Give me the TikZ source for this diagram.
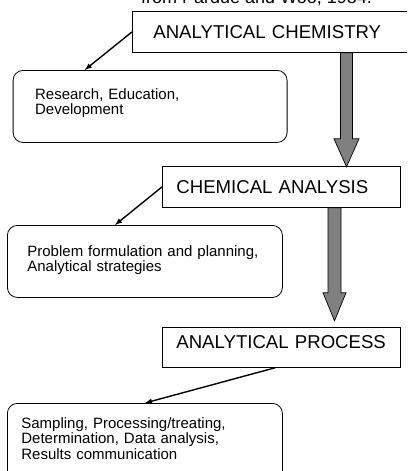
\documentclass[tikz,border=0pt]{standalone}
\usepackage{fontspec}
\setmainfont{Liberation Sans}
\usepackage{tikz}
\usetikzlibrary{positioning, arrows, calc}

\begin{document}
\begin{tikzpicture}[x=1pt, y=-1pt,
  stage/.style={draw, rectangle, anchor=north west, align=left, line width=0.8pt,
    minimum height=41pt, font=\fontsize{18.6}{22}\selectfont},
  note/.style={draw, rounded corners=10pt, anchor=north west, align=left, line width=0.8pt,
    font=\fontsize{15}{15.5}\selectfont},
  link/.style={-latex, line width=1.4pt},
  bigarrow/.style={draw=black, fill=gray, line width=0.7pt}]
  \useasboundingbox (0,0) rectangle (407,471);
  \clip (0,0) rectangle (407,471);

  \node (src) [anchor=base west, inner sep=0pt, font=\fontsize{18}{20}\selectfont] at (141,4) {from Pardue and Woo, 1984.};

  % the three levels
  \node (chem) [stage, text width=238pt, inner xsep=21pt] at (132,11) {ANALYTICAL CHEMISTRY};
  \node (analysis) [stage, text width=210pt, inner xsep=14pt] at (162,166) {CHEMICAL ANALYSIS};
  \node (proc) [stage, text width=210pt, inner xsep=14pt, minimum height=40pt, text depth=11pt] at (162,327) {ANALYTICAL PROCESS};

  % what each level covers
  \node (res) [note, text width=230pt, inner xsep=22pt, inner ysep=17.8pt, text depth=25.6pt] at (12.7,70)
  {Research, Education,\\Development};
  \node (prob) [note, text width=235pt, inner xsep=20pt, inner ysep=19.8pt, text depth=21.6pt] at (7,225)
  {Problem formulation and planning,\\Analytical strategies};
  \node (samp) [note, text width=247pt, inner xsep=14pt, inner ysep=14pt, text depth=48pt] at (7,403)
  {Sampling, Processing/treating,\\Determination, Data analysis,\\Results communication};

  \draw[link] (chem.west) -- ($(res.north west)+(72,0)$);
  \draw[link] (analysis.west) -- ($(prob.north west)+(108,0)$);
  \draw[link] ($(proc.south west)+(113,0)$) -- ($(samp.north west)+(138,0)$);

  \draw[bigarrow] ($(chem.south west)+(208.5,0)$) -- ++(0,86) -- ++(-6.5,0) -- ++(12.5,28)
    -- ++(12.5,-28) -- ++(-6.5,0) -- ++(0,-86) -- cycle;
  \draw[bigarrow] ($(analysis.south west)+(166,0)$) -- ++(0,85) -- ++(-5,0) -- ++(11.5,28)
    -- ++(11.5,-28) -- ++(-5,0) -- ++(0,-85) -- cycle;
\end{tikzpicture}
\end{document}
